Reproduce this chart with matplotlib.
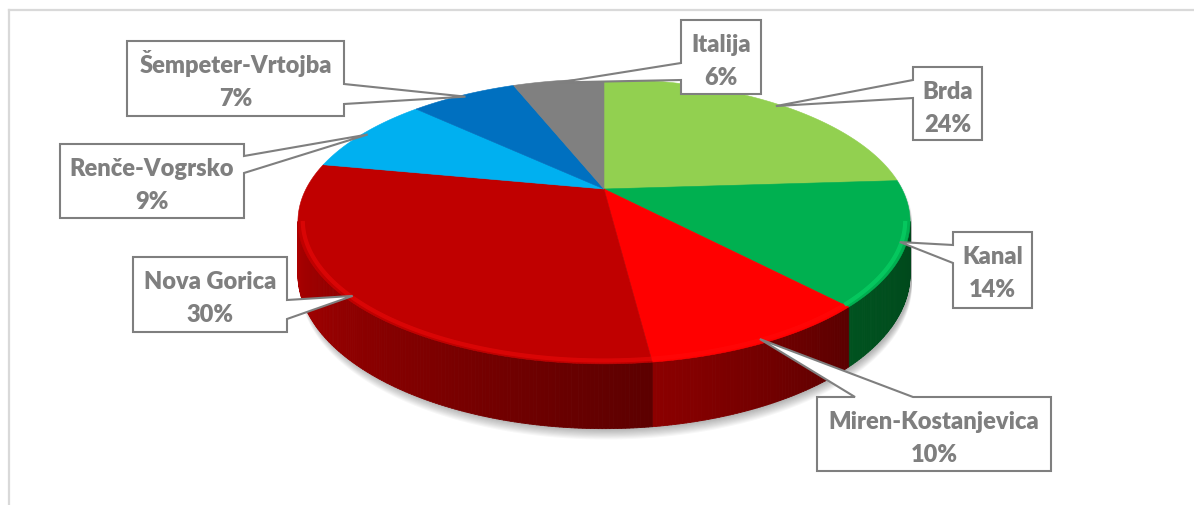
import numpy as np
import matplotlib.pyplot as plt
from matplotlib.patches import Polygon
from matplotlib.collections import PolyCollection
import matplotlib.colors as mcolors

# Podatki (delez po obmocjih, v %)
regije = ['Brda', 'Kanal', 'Miren-Kostanjevica', 'Nova Gorica',
          'Renče-Vogrsko', 'Šempeter-Vrtojba', 'Italija']
delezi = [24, 14, 10, 30, 9, 7, 6]
oznake = ['24%', '14%', '10%', '30%', '9%', '7%', '6%']

# Barve
barve = ['#92D050', '#00B050', '#FF0000', '#C00000', '#00B0F0', '#0070C0', '#808080']
stranske = [('#5E8A30', '#4A6E26'), ('#00521F', '#00471B'), ('#8C0000', '#5A0000'),
            ('#AC0000', '#5C0000'), ('#0078A8', '#005C80'), ('#004C85', '#003A66'),
            ('#585858', '#444444')]

# Okvirji oznak: levo, zgoraj, desno, spodaj, stranica s kazalcem, osnova kazalca
okvirji = [(913, 68, 982, 141, 'left', (81, 99)),
           (953, 233, 1032, 309, 'left', (246, 264)),
           (817, 398, 1051, 472, 'top', (855, 913)),
           (133, 258, 287, 333, 'right', (301, 320)),
           (60, 145, 244, 219, 'right', (157, 174)),
           (127, 42, 344, 117, 'right', (85, 105)),
           (681, 21, 761, 95, 'left', (64, 81))]

# Geometrija (v pikslih)
CX, CY = 604, 190
A, B, P = 298, 135, 0.228
DEPTH = 50


def proj(theta, r=1.0, z=0.0):
    u = r * np.sin(theta)
    v = -r * np.cos(theta)
    w = 1 - P * v
    return CX + A * u / w, CY + B * v / w + z * DEPTH / w


fig = plt.figure(figsize=(11.94, 5.06), dpi=100)
ax = fig.add_axes([0, 0, 1, 1])
ax.set_xlim(0, 1194)
ax.set_ylim(506, 0)
ax.axis('off')

# okvir grafa
ax.plot([9, 9], [506, 11], color='#D9D9D9', lw=1.6, zorder=1)
ax.plot([9, 1194], [11, 11], color='#D9D9D9', lw=1.6, zorder=1)

meje = np.concatenate([[0], np.cumsum(delezi)]) / np.sum(delezi) * 2 * np.pi
t0 = np.arccos(-P)
t1 = 2 * np.pi - t0

# senca
tt = np.linspace(0, 2 * np.pi, 400)
xs, ys_top = proj(tt)
_, ys_bot = proj(tt, z=1.0)
front = (tt > t0) & (tt < t1)
ys_sil = np.where(front, ys_bot, ys_top)
for k in range(10):
    ax.add_patch(Polygon(np.column_stack([xs + 2, ys_sil + 1 + k * 1.1]), closed=True,
                         facecolor='#000000', alpha=0.03, lw=0, zorder=2))

# stranice
for i in range(len(delezi)):
    a0 = max(meje[i], t0)
    a1 = min(meje[i + 1], t1)
    if a1 <= a0:
        continue
    n = max(int((a1 - a0) / 0.01), 2)
    th = np.linspace(a0, a1, n + 1)
    c_left = np.array(mcolors.to_rgb(stranske[i][0]))
    c_right = np.array(mcolors.to_rgb(stranske[i][1]))
    polys, cols = [], []
    for j in range(n):
        x0, y0 = proj(th[j])
        x1, y1 = proj(th[j + 1])
        _, y0b = proj(th[j], z=1.0)
        _, y1b = proj(th[j + 1], z=1.0)
        polys.append([(x0, y0), (x1, y1), (x1, y1b), (x0, y0b)])
        f = 1 - (j + 0.5) / n  # clockwise goes right->left here
        cols.append(c_left * (1 - f) + c_right * f)
    ax.add_collection(PolyCollection(polys, facecolors=cols, edgecolors=cols,
                                     linewidths=0.6, zorder=3))

# zgornja ploskev
for i in range(len(delezi)):
    th = np.linspace(meje[i], meje[i + 1], 200)
    x, y = proj(th)
    pts = np.column_stack([np.r_[CX, x], np.r_[CY, y]])
    ax.add_patch(Polygon(pts, closed=True, facecolor=barve[i], edgecolor=barve[i],
                         lw=0.4, zorder=4))
    # svetli rob spredaj
    a0 = max(meje[i], t0)
    a1 = min(meje[i + 1], t1)
    if a1 > a0:
        th = np.linspace(a0, a1, 100)
        x, y = proj(th, r=0.985)
        svetla = np.clip(np.array(mcolors.to_rgb(barve[i])) * 1.17 + 0.04, 0, 1)
        ax.plot(x, y, color=svetla, lw=3, alpha=0.6, zorder=5,
                solid_capstyle='butt')

# oznake
siva = '#7F7F7F'
for i in range(len(delezi)):
    l, t, r, b, stran, (s0, s1) = okvirji[i]
    mid = (meje[i] + meje[i + 1]) / 2
    tx, ty = proj(mid, r=0.98)
    if stran == 'left':
        pts = [(l, t), (r, t), (r, b), (l, b), (l, s1), (tx, ty), (l, s0)]
    elif stran == 'right':
        pts = [(l, t), (r, t), (r, s0), (tx, ty), (r, s1), (r, b), (l, b)]
    else:
        pts = [(l, t), (s0, t), (tx, ty), (s1, t), (r, t), (r, b), (l, b)]
    ax.add_patch(Polygon(pts, closed=True, facecolor='white', edgecolor=siva,
                         lw=1.5, joinstyle='miter', zorder=6))
    cx = (l + r) / 2
    ax.text(cx, t + 31, regije[i], ha='center', va='baseline', color=siva,
            fontsize=17, fontweight='heavy', family='Lato', zorder=7)
    ax.text(cx, t + 64, oznake[i], ha='center', va='baseline', color=siva,
            fontsize=17, fontweight='heavy', family='Lato', zorder=7)

fig.savefig('out.png', dpi=100, facecolor='white')
